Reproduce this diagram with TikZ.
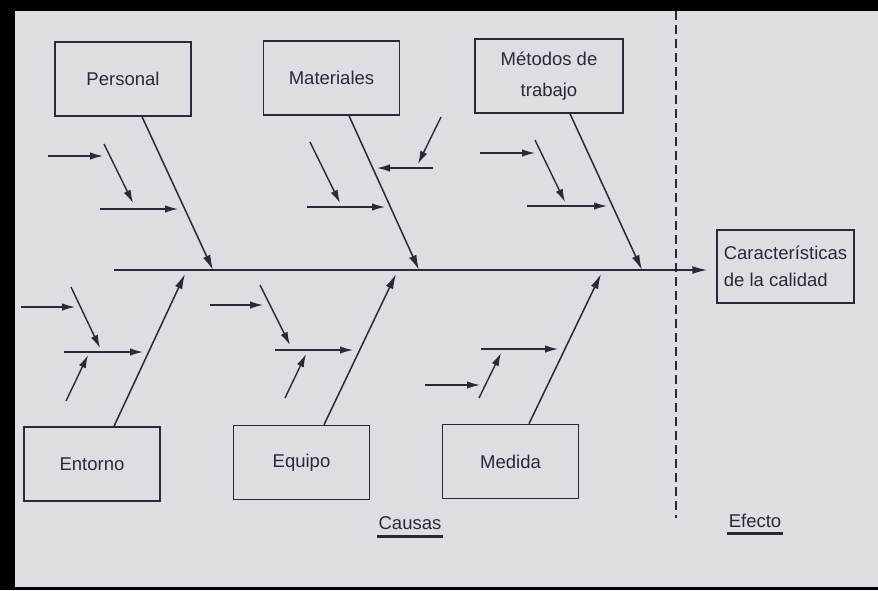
\documentclass[tikz,border=0pt]{standalone}
\usepackage{fontspec}
\setmainfont{Liberation Sans}
\usepackage{xcolor}
\definecolor{ink}{HTML}{272A37}
\definecolor{paper}{HTML}{DCDEE1}
\usetikzlibrary{arrows.meta}

\tikzset{
  causebox/.style={draw=ink, line width=1.5pt, minimum width=136pt, minimum height=74pt, inner sep=2pt, text=ink, font=\fontsize{18.5}{22}\selectfont},
  rib/.style={draw=ink, line width=1.5pt, -{Latex[length=15pt,width=8pt]}},
  twig/.style={draw=ink, line width=1.4pt, -{Latex[length=13pt,width=7.5pt]}},
  label/.style={text=ink, inner sep=0pt, font=\fontsize{18.5}{22}\selectfont},
}

\begin{document}
\begin{tikzpicture}[x=1pt, y=-1pt]
\useasboundingbox (0,0) rectangle (878,590);
\fill[paper] (0,0) rectangle (878,590);
\fill[black] (0,0) rectangle (878,11);
\fill[black] (0,0) rectangle (15,590);
\fill[black] (0,587) rectangle (878,590);

\node[causebox] (personal) at (123,79) {Personal};
\node[causebox] (materiales) at (331.5,78) {Materiales};
\node[causebox, minimum width=148pt, align=center, font=\fontsize{18.5}{31}\selectfont] (metodos) at (549,76) {Métodos de\\trabajo};
\node[causebox, minimum width=137pt, minimum height=73pt, align=left, font=\fontsize{18.5}{27}\selectfont] (calidad) at (785.5,266.5) {Características\\de la calidad};
\node[causebox] (entorno) at (92,464) {Entorno};
\node[causebox] (equipo) at (301.5,462.5) {Equipo};
\node[causebox] (medida) at (510.5,461.5) {Medida};

\coordinate (cut-top) at (676,11);
\coordinate (cut-bot) at (676,518);
\draw[ink, line width=1.4pt, dash pattern=on 9pt off 5pt] (cut-top) -- (cut-bot);

\coordinate (tail) at (114,270);
\draw[rib, shorten >=9pt] (tail) -- (tail -| calidad.west);

\coordinate (personal-end) at (213,270);
\coordinate (materiales-end) at (419,270);
\coordinate (metodos-end) at (642,270);
\coordinate (entorno-end) at (185,274);
\coordinate (equipo-end) at (396,274);
\coordinate (medida-end) at (601,274);
\draw[rib] ([xshift=19pt]personal.south) -- (personal-end);
\draw[rib] ([xshift=17.5pt]materiales.south) -- (materiales-end);
\draw[rib] ([xshift=21pt]metodos.south) -- (metodos-end);
\draw[rib] ([xshift=22pt]entorno.north) -- (entorno-end);
\draw[rib] ([xshift=22.5pt]equipo.north) -- (equipo-end);
\draw[rib] ([xshift=18.5pt]medida.north) -- (medida-end);

\coordinate (p1a) at (48,156);  \coordinate (p1b) at (103,156);
\coordinate (p2a) at (104,144); \coordinate (p2b) at (133,203);
\coordinate (p3a) at (100,209); \coordinate (p3b) at (178,209);
\draw[twig] (p1a) -- (p1b);
\draw[twig] (p2a) -- (p2b);
\draw[twig] (p3a) -- (p3b);

\coordinate (m1a) at (310,142); \coordinate (m1b) at (340,203);
\coordinate (m2a) at (307,207); \coordinate (m2b) at (385,207);
\coordinate (m3a) at (433,168); \coordinate (m3b) at (377,168);
\coordinate (m4a) at (441,117); \coordinate (m4b) at (418,164);
\draw[twig] (m1a) -- (m1b);
\draw[twig] (m2a) -- (m2b);
\draw[twig] (m3a) -- (m3b);
\draw[twig] (m4a) -- (m4b);

\coordinate (t1a) at (480,153); \coordinate (t1b) at (535,153);
\coordinate (t2a) at (535,140); \coordinate (t2b) at (565,202);
\coordinate (t3a) at (527,206); \coordinate (t3b) at (607,206);
\draw[twig] (t1a) -- (t1b);
\draw[twig] (t2a) -- (t2b);
\draw[twig] (t3a) -- (t3b);

\coordinate (e1a) at (21,307);  \coordinate (e1b) at (75,307);
\coordinate (e2a) at (71,287);  \coordinate (e2b) at (100,348);
\coordinate (e3a) at (64,352);  \coordinate (e3b) at (143,352);
\coordinate (e4a) at (66,401);  \coordinate (e4b) at (88,355);
\draw[twig] (e1a) -- (e1b);
\draw[twig] (e2a) -- (e2b);
\draw[twig] (e3a) -- (e3b);
\draw[twig] (e4a) -- (e4b);

\coordinate (q1a) at (210,305); \coordinate (q1b) at (263,305);
\coordinate (q2a) at (260,285); \coordinate (q2b) at (290,345);
\coordinate (q3a) at (275,350); \coordinate (q3b) at (353,350);
\coordinate (q4a) at (285,398); \coordinate (q4b) at (306,354);
\draw[twig] (q1a) -- (q1b);
\draw[twig] (q2a) -- (q2b);
\draw[twig] (q3a) -- (q3b);
\draw[twig] (q4a) -- (q4b);

\coordinate (d1a) at (481,349); \coordinate (d1b) at (558,349);
\coordinate (d2a) at (479,398); \coordinate (d2b) at (501,353);
\coordinate (d3a) at (425,385); \coordinate (d3b) at (480,385);
\draw[twig] (d1a) -- (d1b);
\draw[twig] (d2a) -- (d2b);
\draw[twig] (d3a) -- (d3b);

\node[label] (causas) at (410,523) {Causas};
\draw[ink, line width=3pt] ([xshift=-1pt,yshift=-7pt]causas.south west) -- ([xshift=1pt,yshift=-7pt]causas.south east);
\node[label] (efecto) at (755,521) {Efecto};
\draw[ink, line width=3pt] ([xshift=-2pt,yshift=-5.5pt]efecto.south west) -- ([xshift=2pt,yshift=-5.5pt]efecto.south east);
\end{tikzpicture}
\end{document}
